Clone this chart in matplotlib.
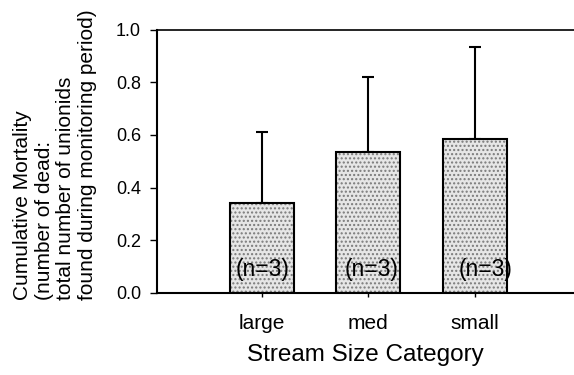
import matplotlib
matplotlib.use("Agg")
import matplotlib.pyplot as plt
import numpy as np

categories = ["large", "med", "small"]
mortality = [0.34, 0.535, 0.585]
sd_upper = [0.27, 0.285, 0.35]
n_labels = ["(n=3)", "(n=3)", "(n=3)"]
y_ticks = [0.0, 0.2, 0.4, 0.6, 0.8, 1.0]

plt.rcParams["font.family"] = ["Liberation Sans", "DejaVu Sans"]

fig = plt.figure(figsize=(5.74, 3.75), dpi=100)
ax = fig.add_axes([0.2735, 0.2187, 0.7265, 0.7026])

x = np.arange(len(categories))
width = 0.6

# stippled fill, then a crisp black outline on top
ax.bar(x, mortality, width, color="#e6e6e6", edgecolor="#7a7a7a",
       linewidth=0, hatch="....", zorder=2)
ax.bar(x, mortality, width, fill=False, edgecolor="black",
       linewidth=1.5, zorder=3)

ax.errorbar(x, mortality, yerr=[np.zeros(len(x)), sd_upper], fmt="none",
            ecolor="black", elinewidth=1.5, capsize=4, capthick=1.5,
            zorder=1)

# sample-size notes near the base of each bar
offsets = [0.01, 0.03, 0.1]
for xi, lab, dx in zip(x, n_labels, offsets):
    ax.text(xi + dx, 0.088, lab, ha="center", va="center",
            fontsize=16.5, zorder=4)

ax.set_xlim(-0.981, 2.927)
ax.set_ylim(0, 1.0)
ax.set_yticks(y_ticks)
ax.set_yticklabels([f"{v:.1f}" for v in y_ticks], fontsize=13)
ax.set_xticks(x)
ax.set_xticklabels(categories, fontsize=15)
ax.tick_params(axis="y", direction="out", length=5, width=1, pad=6.5)
ax.tick_params(axis="x", direction="out", length=3, width=1, pad=12)

ax.spines["right"].set_visible(False)
for side in ("left", "bottom"):
    ax.spines[side].set_linewidth(1.5)
ax.spines["top"].set_linewidth(1.2)

ax.set_xlabel("Stream Size Category", fontsize=17.5, labelpad=8)

fig.text(0.096, 0.587,
         "Cumulative Mortality\n(number of dead:\ntotal number of unionids\nfound during monitoring period)",
         rotation=90, ha="center", va="center", multialignment="left",
         fontsize=15, linespacing=1.18)

fig.savefig("out.png", dpi=100)
